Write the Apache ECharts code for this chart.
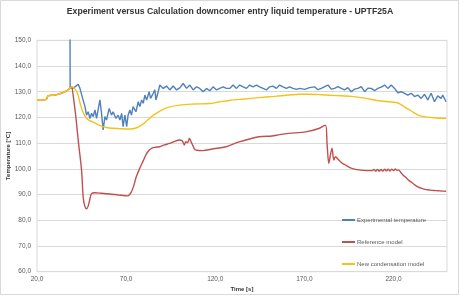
<!DOCTYPE html>
<html>
<head>
<meta charset="utf-8">
<script src="https://cdn.jsdelivr.net/npm/echarts@6/dist/echarts.min.js"></script>
<style>
  html, body { margin: 0; padding: 0; background: #fff; }
  #myChart { width: 460px; height: 296px; }
</style>
</head>
<body>
<div id="myChart"></div>
<script>
// Experimental temperature (time [s], temperature [°C])
const expTime = [38.5, 38.6, 40.0, 41.3, 43.1, 44.1, 45.6, 46.9, 47.8, 48.7, 49.7, 50.6, 51.5, 52.5, 53.4, 55.3, 56.2, 57.1, 58.1, 59.0,
  60.5, 61.8, 62.7, 64.3, 65.5, 66.5, 67.5, 68.3, 69.3, 70.3, 71.1, 72.1, 73.0, 73.9, 75.5, 76.8, 77.7, 78.7, 79.6, 80.5,
  81.5, 82.9, 83.7, 85.2, 86.1, 86.7, 87.5, 88.9, 90.8, 92.7, 94.5, 96.4, 98.3, 100.1, 102.0, 103.9, 105.7, 107.6, 109.5, 111.3,
  113.2, 115.1, 116.9, 118.8, 120.7, 122.5, 124.4, 126.3, 128.1, 130.0, 131.9, 133.7, 135.6, 137.5, 139.3, 141.2, 143.1, 144.9, 146.8, 148.7,
  150.5, 152.4, 154.3, 156.1, 158.0, 159.9, 161.7, 163.6, 165.5, 167.3, 170.1, 172.9, 175.7, 177.6, 179.5, 181.4, 183.2, 185.1, 186.9, 188.8,
  190.7, 192.5, 194.4, 196.3, 198.1, 200.0, 201.9, 203.8, 205.6, 207.5, 209.4, 211.2, 213.1, 215.0, 216.8, 218.7, 220.6, 222.4, 224.3, 226.2,
  228.0, 229.9, 231.8, 233.6, 235.5, 237.4, 239.2, 241.1, 243.0, 244.8, 246.7, 247.6, 249.5];
const expTemp = [160.0, 131.6, 131.3, 131.9, 132.9, 131.3, 127.4, 124.2, 120.9, 122.2, 119.6, 121.6, 120.3, 122.9, 119.6, 126.8, 121.6, 115.1, 120.3, 119.0,
  123.5, 120.9, 122.2, 119.6, 120.9, 119.0, 121.6, 116.4, 120.9, 116.4, 120.9, 122.9, 120.9, 124.2, 122.2, 126.1, 124.2, 126.8, 125.5, 128.7,
  126.8, 130.0, 127.4, 129.4, 130.7, 126.8, 128.7, 132.6, 131.3, 132.2, 130.7, 132.2, 130.7, 131.5, 133.2, 131.3, 132.6, 130.7, 131.9, 131.3,
  130.0, 131.3, 130.4, 131.9, 130.7, 131.3, 131.9, 131.3, 131.3, 132.6, 131.3, 132.6, 131.9, 131.3, 132.6, 131.9, 132.6, 131.9, 131.3, 130.7,
  131.9, 132.2, 131.3, 132.6, 131.9, 131.3, 131.9, 131.3, 130.9, 131.3, 130.9, 131.6, 131.9, 130.8, 131.3, 132.0, 132.6, 131.0, 131.3, 132.0,
  131.3, 130.7, 131.6, 130.0, 131.0, 131.3, 132.0, 130.0, 131.4, 131.3, 130.4, 131.3, 131.8, 132.6, 131.3, 132.6, 131.3, 129.6, 130.0, 129.4,
  128.7, 129.4, 128.1, 128.7, 127.4, 129.0, 126.8, 129.4, 126.1, 128.4, 127.4, 128.7, 126.1];

// Reference model
const refTime = [20, 24.5, 25.5, 26.1, 30, 34, 36.5, 38.4, 39.6, 39.9, 41.5, 43.3, 45.0, 45.9, 46.8, 47.8, 48.7, 49.6, 50.5, 52.4,
  56, 60.8, 66, 71, 72.9, 74.3, 75.7, 77.5, 79.5, 81.3, 83, 84.5, 86.5, 88.7, 91.5, 94.3, 97, 99.9, 101.5, 102.7,
  103.5, 104.5, 105.5, 106.4, 107.3, 108.2, 109.2, 112.9, 119, 126, 133.4, 144.6, 151.8, 156, 161.3, 170.8, 178.1, 181.8, 182.7, 183.7,
  184.6, 185.5, 186.5, 187.4, 189.3, 191, 193, 195.5, 198.6, 203, 207.9, 209, 210, 211, 212, 213, 214, 215, 216, 217,
  218, 219, 220, 221, 222, 222.8, 224, 225.3, 226.5, 228.5, 230, 232.1, 234, 235.5, 237.7, 240, 242.5, 245.1, 247, 249.5];
const refTemp = [126.9, 126.9, 127.2, 128.4, 128.7, 129.5, 130.3, 131.3, 132.0, 131.9, 122.0, 110.0, 99.5, 89.1, 85.5, 84.5, 85.5, 88.0, 90.3, 90.7,
  90.5, 90.2, 89.8, 89.5, 91.0, 93.5, 96.9, 100.0, 103.0, 105.7, 107.3, 108.1, 108.4, 108.6, 109.3, 109.9, 110.6, 111.2, 110.9, 109.3,
  110.6, 110.2, 111.8, 110.6, 109.3, 107.9, 107.3, 107.1, 107.8, 108.6, 110.5, 112.5, 112.8, 113.3, 113.8, 114.4, 115.7, 117.0, 109.9, 102.1,
  105.4, 108.0, 103.4, 104.7, 103.4, 102.3, 101.5, 100.5, 99.8, 99.4, 99.3, 99.8, 99.1, 99.8, 99.1, 99.8, 99.1, 99.9, 99.2, 99.9,
  99.2, 99.9, 99.3, 100.0, 99.4, 99.6, 98.7, 97.6, 96.9, 95.6, 94.8, 93.7, 92.9, 92.5, 92.0, 91.8, 91.6, 91.5, 91.4, 91.3];

// New condensation model
const newTime = [20, 24.5, 25.5, 26.1, 30, 34, 36.5, 38.4, 39.6, 41, 42.3, 43.2, 44, 45.7, 47.9, 49.5, 51.3, 54, 56.9, 59.5,
  62.5, 67, 72, 75.9, 79.2, 81, 83.1, 85.5, 88.7, 93, 99.9, 108, 116.6, 122, 127.8, 135, 144.6, 153, 161.3, 166.9,
  173, 179.8, 188, 196.5, 204, 210.5, 216, 221.7, 223.5, 225.6, 228, 231.2, 233, 235.1, 238, 242.3, 246, 249.5];
const newTemp = [126.9, 126.9, 127.2, 128.4, 128.7, 129.5, 130.3, 131.3, 132.0, 131.3, 130.0, 128.3, 126.0, 122.2, 119.6, 118.8, 118.3, 117.3, 116.4, 116.0,
  115.8, 115.6, 115.5, 116.0, 117.3, 118.3, 119.6, 121.0, 122.4, 123.8, 124.8, 125.2, 125.4, 126.0, 126.6, 127.1, 127.7, 128.2, 128.7, 129.0,
  129.0, 128.8, 128.5, 128.2, 127.5, 126.6, 126.2, 125.8, 125.3, 124.4, 123.3, 122.0, 121.2, 120.6, 120.2, 119.9, 119.7, 119.6];

const seriesNames = ["Experimental temperature", "Reference model", "New condensation model"];

function pairs(xs, ys) {
  return xs.map((x, i) => [x, ys[i]]);
}
function comma(v) {
  return v.toFixed(1).replace(".", ",");
}

let myChart = echarts.init(document.getElementById("myChart"));
const labelStyle = { color: "#595959", fontSize: 6.5, fontFamily: "Liberation Sans" };
const nameStyle = { fontSize: 6, fontWeight: "bold", color: "#333", fontFamily: "Liberation Sans" };

myChart.setOption({
  animation: false,
  color: ["#4f81bd", "#c0504d", "#f5c21a"],
  title: {
    text: "Experiment versus Calculation downcomer entry liquid temperature - UPTF25A",
    left: "center",
    top: 2,
    textStyle: { fontSize: 8.7, fontWeight: "bold", color: "#333", fontFamily: "Liberation Sans" }
  },
  graphic: [
    {
      type: "rect",
      shape: { x: 0.5, y: 0.5, width: 458, height: 294 },
      style: { fill: "none", stroke: "#d9d9d9", lineWidth: 1 },
      silent: true
    }
  ],
  grid: {
    left: 37,
    right: 13,
    top: 40.3,
    bottom: 24.3,
    containLabel: false,
    outerBoundsMode: "none",
    show: true,
    borderColor: "#d9d9d9",
    borderWidth: 1
  },
  legend: {
    orient: "vertical",
    left: 337,
    top: 212,
    itemGap: 16,
    itemWidth: 13,
    itemHeight: 2,
    icon: "rect",
    textStyle: { color: "#595959", fontSize: 6, fontFamily: "Liberation Sans", padding: [0, 0, 0, -3] },
    data: seriesNames
  },
  xAxis: {
    type: "value",
    min: 20,
    max: 250,
    interval: 50,
    name: "Time [s]",
    nameLocation: "middle",
    nameGap: 15,
    nameMoveOverlap: false,
    nameTextStyle: nameStyle,
    axisLine: { show: false },
    axisTick: { show: false },
    splitLine: { show: false },
    axisLabel: Object.assign({ margin: 4, showMaxLabel: false, formatter: comma }, labelStyle)
  },
  yAxis: {
    type: "value",
    min: 60,
    max: 150,
    interval: 10,
    name: "Temperature [°C]",
    nameLocation: "middle",
    nameGap: 26,
    nameMoveOverlap: false,
    nameTextStyle: nameStyle,
    axisLine: { show: false },
    axisTick: { show: false },
    splitLine: { lineStyle: { color: "#d9d9d9", width: 1 } },
    axisLabel: Object.assign({ margin: 6, formatter: comma }, labelStyle)
  },
  series: [
    {
      name: seriesNames[0],
      type: "line",
      showSymbol: false,
      clip: true,
      lineStyle: { width: 1.4 },
      data: pairs(expTime, expTemp)
    },
    {
      name: seriesNames[1],
      type: "line",
      showSymbol: false,
      smooth: 0.3,
      clip: true,
      lineStyle: { width: 1.4 },
      data: pairs(refTime, refTemp)
    },
    {
      name: seriesNames[2],
      type: "line",
      showSymbol: false,
      smooth: 0.3,
      clip: true,
      lineStyle: { width: 1.4 },
      data: pairs(newTime, newTemp)
    }
  ]
});
</script>
</body>
</html>
